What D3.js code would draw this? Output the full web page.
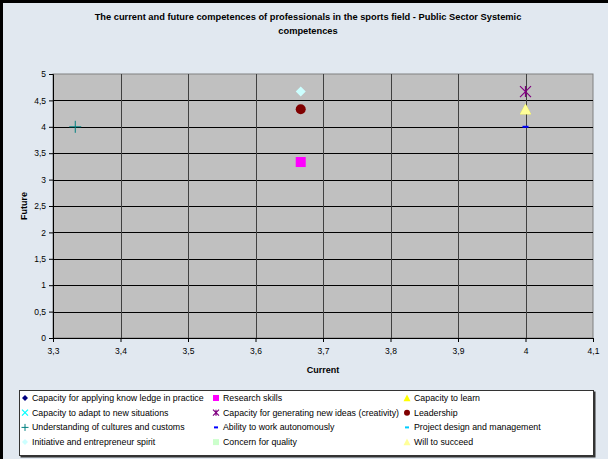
<html>
<head>
<script src="https://d3js.org/d3.v7.min.js"></script>
<style>
    body { margin: 0; background: #e1e8f0; }
    text { font-family: "Liberation Sans", Arial, sans-serif; fill: #000; }
    .axis .domain { stroke: #000; }
    .axis line { stroke: #000; }
    .axis text { font-size: 8.5px; }
</style>
</head>
<body>
<svg id="chart" width="608" height="459"></svg>
<script>
// series (Current, Future) – null = not drawn in the plot
const seriesNames = [
    "Capacity for applying know ledge in practice", "Research skills", "Capacity to learn",
    "Capacity to adapt to new situations", "Capacity for generating new ideas (creativity)", "Leadership",
    "Understanding of cultures and customs", "Ability to work autonomously", "Project design and management",
    "Initiative and entrepreneur spirit", "Concern for quality", "Will to succeed"
];
const currentValues = [null, 3.667, 4, null, 4, 3.667, 3.333, 4, null, 3.667, null, 4];
const futureValues  = [null, 3.333, 4.333, null, 4.667, 4.333, 4, 4, null, 4.667, null, 4.333];
const seriesColors = ["#000080", "#ff00ff", "#ffff00", "#00ffff", "#800080", "#800000",
                      "#008080", "#0000ff", "#00ccff", "#ccffff", "#ccffcc", "#ffff99"];
const seriesShapes = ["diamond", "square", "triangle", "x", "star", "circle",
                      "plus", "dash", "dash", "diamond", "square", "triangle"];
const xTicks = [3.3, 3.4, 3.5, 3.6, 3.7, 3.8, 3.9, 4, 4.1];
const yTicks = [0, 0.5, 1, 1.5, 2, 2.5, 3, 3.5, 4, 4.5, 5];

const svg = d3.select("svg#chart");
const width = +svg.attr("width");
const height = +svg.attr("height");
const margin = { top: 74, right: 15, bottom: 121, left: 53 };
const plotW = width - margin.left - margin.right;
const plotH = height - margin.top - margin.bottom;

// outer frame
svg.append("rect").attr("x", 1.5).attr("y", 1.5).attr("width", width + 5).attr("height", height + 5)
    .attr("fill", "#e1e8f0").attr("stroke", "#000").attr("stroke-width", 3);

svg.append("text").attr("x", 308).attr("y", 20).attr("text-anchor", "middle")
    .style("font-size", "9.3px").style("font-weight", "bold")
    .text("The current and future competences of professionals in the sports field - Public Sector Systemic");
svg.append("text").attr("x", 308).attr("y", 34).attr("text-anchor", "middle")
    .style("font-size", "9.3px").style("font-weight", "bold")
    .text("competences");

const xScale = d3.scaleLinear().domain([3.3, 4.1]).range([0, plotW]);
const yScale = d3.scaleLinear().domain([0, 5]).range([plotH, 0]);

const plot = svg.append("g").attr("transform", `translate(${margin.left},${margin.top})`);
plot.append("rect").attr("width", plotW).attr("height", plotH)
    .attr("fill", "#c0c0c0").attr("stroke", "#808080").attr("stroke-width", 1);

// gridlines
plot.selectAll("line.hgrid").data(yTicks.filter(d => d > 0 && d < 5)).join("line")
    .attr("class", "hgrid")
    .attr("x1", 0).attr("x2", plotW)
    .attr("y1", d => Math.round(yScale(d)) + 0.5).attr("y2", d => Math.round(yScale(d)) + 0.5)
    .attr("stroke", "#000");
plot.selectAll("line.vgrid").data(xTicks.filter(d => d > 3.3 && d < 4.1)).join("line")
    .attr("class", "vgrid")
    .attr("y1", 0).attr("y2", plotH)
    .attr("x1", d => Math.round(xScale(d)) + 0.5).attr("x2", d => Math.round(xScale(d)) + 0.5)
    .attr("stroke", "#404040");

const fmt = d => String(d).replace(".", ",");
plot.append("g").attr("class", "axis").attr("transform", `translate(0,${plotH})`)
    .call(d3.axisBottom(xScale).tickValues(xTicks).tickFormat(fmt).tickSize(4).tickPadding(6));
plot.append("g").attr("class", "axis")
    .call(d3.axisLeft(yScale).tickValues(yTicks).tickFormat(fmt).tickSize(4).tickPadding(3));

svg.append("text").attr("x", margin.left + plotW / 2).attr("y", 373).attr("text-anchor", "middle")
    .style("font-size", "9px").style("font-weight", "bold").text("Current");
svg.append("text").attr("transform", "rotate(-90)").attr("x", -(margin.top + plotH / 2)).attr("y", 27)
    .attr("text-anchor", "middle").style("font-size", "9px").style("font-weight", "bold").text("Future");

// marker drawing
function drawMarker(g, shape, color, size) {
    const s = size;
    if (shape === "diamond") g.append("path").attr("d", `M0,${-s}L${s},0L0,${s}L${-s},0Z`).attr("fill", color);
    else if (shape === "square") g.append("rect").attr("x", -s).attr("y", -s).attr("width", 2 * s).attr("height", 2 * s).attr("fill", color);
    else if (shape === "triangle") g.append("path").attr("d", `M0,${-s}L${s},${s * 0.9}L${-s},${s * 0.9}Z`).attr("fill", color);
    else if (shape === "circle") g.append("circle").attr("r", s).attr("fill", color);
    else if (shape === "x") g.append("path").attr("d", `M${-s},${-s}L${s},${s}M${-s},${s}L${s},${-s}`).attr("stroke", color).attr("stroke-width", 1.2);
    else if (shape === "star") g.append("path").attr("d", `M${-s},${-s}L${s},${s}M${-s},${s}L${s},${-s}M0,${-s}L0,${s}`).attr("stroke", color).attr("stroke-width", 1.2);
    else if (shape === "plus") g.append("path").attr("d", `M${-s},0L${s},0M0,${-s}L0,${s}`).attr("stroke", color).attr("stroke-width", 1);
    else if (shape === "dash") g.append("rect").attr("x", -s).attr("y", -1).attr("width", 2 * s).attr("height", 2).attr("fill", color);
}

const points = seriesNames.map((name, i) => ({ name, x: currentValues[i], y: futureValues[i], color: seriesColors[i], shape: seriesShapes[i] }))
    .filter(d => d.x !== null);
const plotSizes = { diamond: 5, square: 5, triangle: 5.5, circle: 5, x: 5, star: 5.5, plus: 6, dash: 3 };
points.forEach(d => {
    const g = plot.append("g").attr("transform", `translate(${xScale(d.x)},${yScale(d.y)})`);
    drawMarker(g, d.shape, d.color, plotSizes[d.shape]);
});

// legend
const legend = svg.append("g").attr("transform", "translate(19,390)");
legend.append("rect").attr("x", 1.5).attr("y", 1.5).attr("width", 575).attr("height", 66).attr("fill", "#333");
legend.append("rect").attr("x", 0.5).attr("y", 0.5).attr("width", 574).attr("height", 65)
    .attr("fill", "#fff").attr("stroke", "#333");
const colX = [6, 197, 388];
const legendSizes = { diamond: 3, square: 3, triangle: 3.5, circle: 3, x: 3, star: 3, plus: 3.5, dash: 2 };
seriesNames.forEach((name, i) => {
    const col = i % 3, row = Math.floor(i / 3);
    const gx = colX[col], gy = 8 + row * 14.7;
    const g = legend.append("g").attr("transform", `translate(${gx},${gy})`);
    drawMarker(g, seriesShapes[i], seriesColors[i], legendSizes[seriesShapes[i]]);
    legend.append("text").attr("x", gx + 7).attr("y", gy + 3).style("font-size", "8.8px").text(name);
});
</script>
</body>
</html>
